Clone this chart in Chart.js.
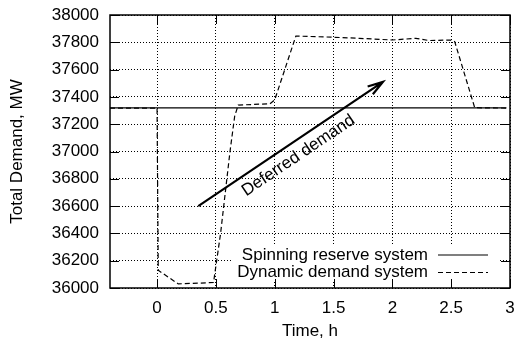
<!DOCTYPE html>
<html>
<head>
<meta charset="utf-8">
<script src="https://cdn.jsdelivr.net/npm/chart.js@4.4.1/dist/chart.umd.min.js"></script>
<style>
  html, body { margin: 0; padding: 0; background: #fff; }
  #wrap { width: 516px; height: 343px; }
</style>
</head>
<body>
<div id="wrap"><canvas id="demandChart" width="516" height="343"></canvas></div>
<script>
// values (time in h, demand in MW)
const timeSpinning = [-0.4, 2.97];
const demandSpinning = [37320, 37320];

const timeDynamic = [-0.4, 0, 0.01, 0.18, 0.48, 0.54, 0.62, 0.66, 0.69, 0.96, 1.0, 1.18, 1.5, 1.72, 2.0, 2.2, 2.31, 2.49, 2.53, 2.7, 2.97];
const demandDynamic = [37318, 37318, 36130, 36030, 36040, 36400, 37000, 37260, 37340, 37350, 37378, 37846, 37837, 37829, 37817, 37829, 37813, 37817, 37805, 37321, 37318];

const seriesLabels = ["Spinning reserve system", "Dynamic demand system"];
const xTickValues = [0, 0.5, 1, 1.5, 2, 2.5, 3];
const yTickValues = [36000, 36200, 36400, 36600, 36800, 37000, 37200, 37400, 37600, 37800, 38000];

// annotation arrow, in data units
const arrowStart = [0.35, 36600];
const arrowEnd = [1.92, 37510];
const arrowText = "Deferred demand";

const FONT = "'Liberation Sans', Arial, Helvetica, sans-serif";
Chart.defaults.font.family = FONT;
Chart.defaults.font.size = 17;
Chart.defaults.color = "#000";

function toPoints(xs, ys) {
  return xs.map((x, i) => ({ x: x, y: ys[i] }));
}

// keep the plot box where the figure has it: no extra room for end labels
function noScalePadding(s) {
  s.paddingTop = 0;
  s.paddingBottom = 0;
  s.paddingLeft = 0;
  s.paddingRight = 0;
}

/** gnuplot look: opaque key, inward ticks, full frame, arrow label */
const gnuplotFrame = {
  id: "gnuplotFrame",
  beforeDatasetsDraw(chart) {
    const { ctx, chartArea: a } = chart;
    ctx.save();
    ctx.fillStyle = "#fff";
    ctx.fillRect(a.left + 123, a.bottom - 43, 267, 36);
    ctx.restore();
  },
  afterDatasetsDraw(chart) {
    const { ctx, chartArea: a, scales } = chart;
    const xs = scales.x, ys = scales.y;
    ctx.save();

    // ticks pointing inwards on all sides
    ctx.strokeStyle = "#000";
    ctx.lineWidth = 1;
    ctx.setLineDash([]);
    ctx.beginPath();
    yTickValues.forEach(v => {
      const py = Math.round(ys.getPixelForValue(v)) + 0.5;
      ctx.moveTo(a.left, py); ctx.lineTo(a.left + 9, py);
      ctx.moveTo(a.right, py); ctx.lineTo(a.right - 9, py);
    });
    xTickValues.forEach(v => {
      const px = Math.round(xs.getPixelForValue(v)) + 0.5;
      ctx.moveTo(px, a.bottom); ctx.lineTo(px, a.bottom - 9);
      ctx.moveTo(px, a.top); ctx.lineTo(px, a.top + 9);
    });
    ctx.stroke();

    // frame
    ctx.lineWidth = 1.5;
    ctx.strokeRect(a.left, a.top, a.right - a.left, a.bottom - a.top);

    // key: text right aligned, sample on the right
    ctx.font = "17px " + FONT;
    ctx.fillStyle = "#000";
    ctx.textAlign = "right";
    ctx.textBaseline = "middle";
    const rows = [a.bottom - 33, a.bottom - 15.5];
    chart.data.datasets.forEach((ds, i) => {
      ctx.fillText(ds.label, a.right - 82, rows[i]);
      ctx.lineWidth = ds.borderWidth;
      ctx.setLineDash(ds.borderDash || []);
      ctx.beginPath();
      ctx.moveTo(a.right - 72, rows[i]);
      ctx.lineTo(a.right - 22, rows[i]);
      ctx.stroke();
    });
    ctx.setLineDash([]);

    // arrow
    const x0 = xs.getPixelForValue(arrowStart[0]), y0 = ys.getPixelForValue(arrowStart[1]);
    const x1 = xs.getPixelForValue(arrowEnd[0]), y1 = ys.getPixelForValue(arrowEnd[1]);
    const ang = Math.atan2(y1 - y0, x1 - x0);
    ctx.lineWidth = 2.2;
    ctx.beginPath();
    ctx.moveTo(x0, y0);
    ctx.lineTo(x1, y1);
    const head = 16, spread = 17 * Math.PI / 180;
    ctx.moveTo(x1 - head * Math.cos(ang - spread), y1 - head * Math.sin(ang - spread));
    ctx.lineTo(x1, y1);
    ctx.lineTo(x1 - head * Math.cos(ang + spread), y1 - head * Math.sin(ang + spread));
    ctx.stroke();

    // label under the arrow, same slope
    const mx = (x0 + x1) / 2 + 14 * -Math.sin(ang);
    const my = (y0 + y1) / 2 + 14 * Math.cos(ang);
    ctx.translate(mx, my);
    ctx.rotate(ang);
    ctx.textAlign = "center";
    ctx.fillText(arrowText, 0, 0);

    ctx.restore();
  }
};

const ctx = document.getElementById("demandChart").getContext("2d");
new Chart(ctx, {
  type: "line",
  data: {
    datasets: [
      { label: seriesLabels[0], data: toPoints(timeSpinning, demandSpinning), borderColor: "#000", borderWidth: 1.2, pointRadius: 0, tension: 0, fill: false },
      { label: seriesLabels[1], data: toPoints(timeDynamic, demandDynamic), borderColor: "#000", borderWidth: 1.2, borderDash: [5, 3], pointRadius: 0, tension: 0, fill: false }
    ]
  },
  options: {
    responsive: false,
    animation: false,
    devicePixelRatio: 1,
    layout: { padding: { top: 15, right: 6, left: 0, bottom: 0 } },
    plugins: { legend: { display: false }, tooltip: { enabled: false } },
    scales: {
      x: {
        type: "linear",
        min: -0.4,
        max: 3,
        afterBuildTicks: s => { s.ticks = xTickValues.map(v => ({ value: v })); },
        afterFit: s => { s.height = 55; noScalePadding(s); },
        ticks: { padding: 10, maxRotation: 0, callback: v => String(v) },
        grid: { color: "#000", lineWidth: 1, drawTicks: false },
        border: { display: false, dash: [1, 2] },
        title: { display: true, text: "Time, h", padding: { top: 0, bottom: 1 } }
      },
      y: {
        type: "linear",
        min: 36000,
        max: 38000,
        afterBuildTicks: s => { s.ticks = yTickValues.map(v => ({ value: v })); },
        afterFit: s => { s.width = 110; noScalePadding(s); },
        ticks: { padding: 11, callback: v => String(v) },
        grid: { color: "#000", lineWidth: 1, drawTicks: false },
        border: { display: false, dash: [1, 2] },
        title: { display: true, text: "Total Demand, MW", padding: { top: 7, bottom: 0 } }
      }
    }
  },
  plugins: [gnuplotFrame]
});
</script>
</body>
</html>
